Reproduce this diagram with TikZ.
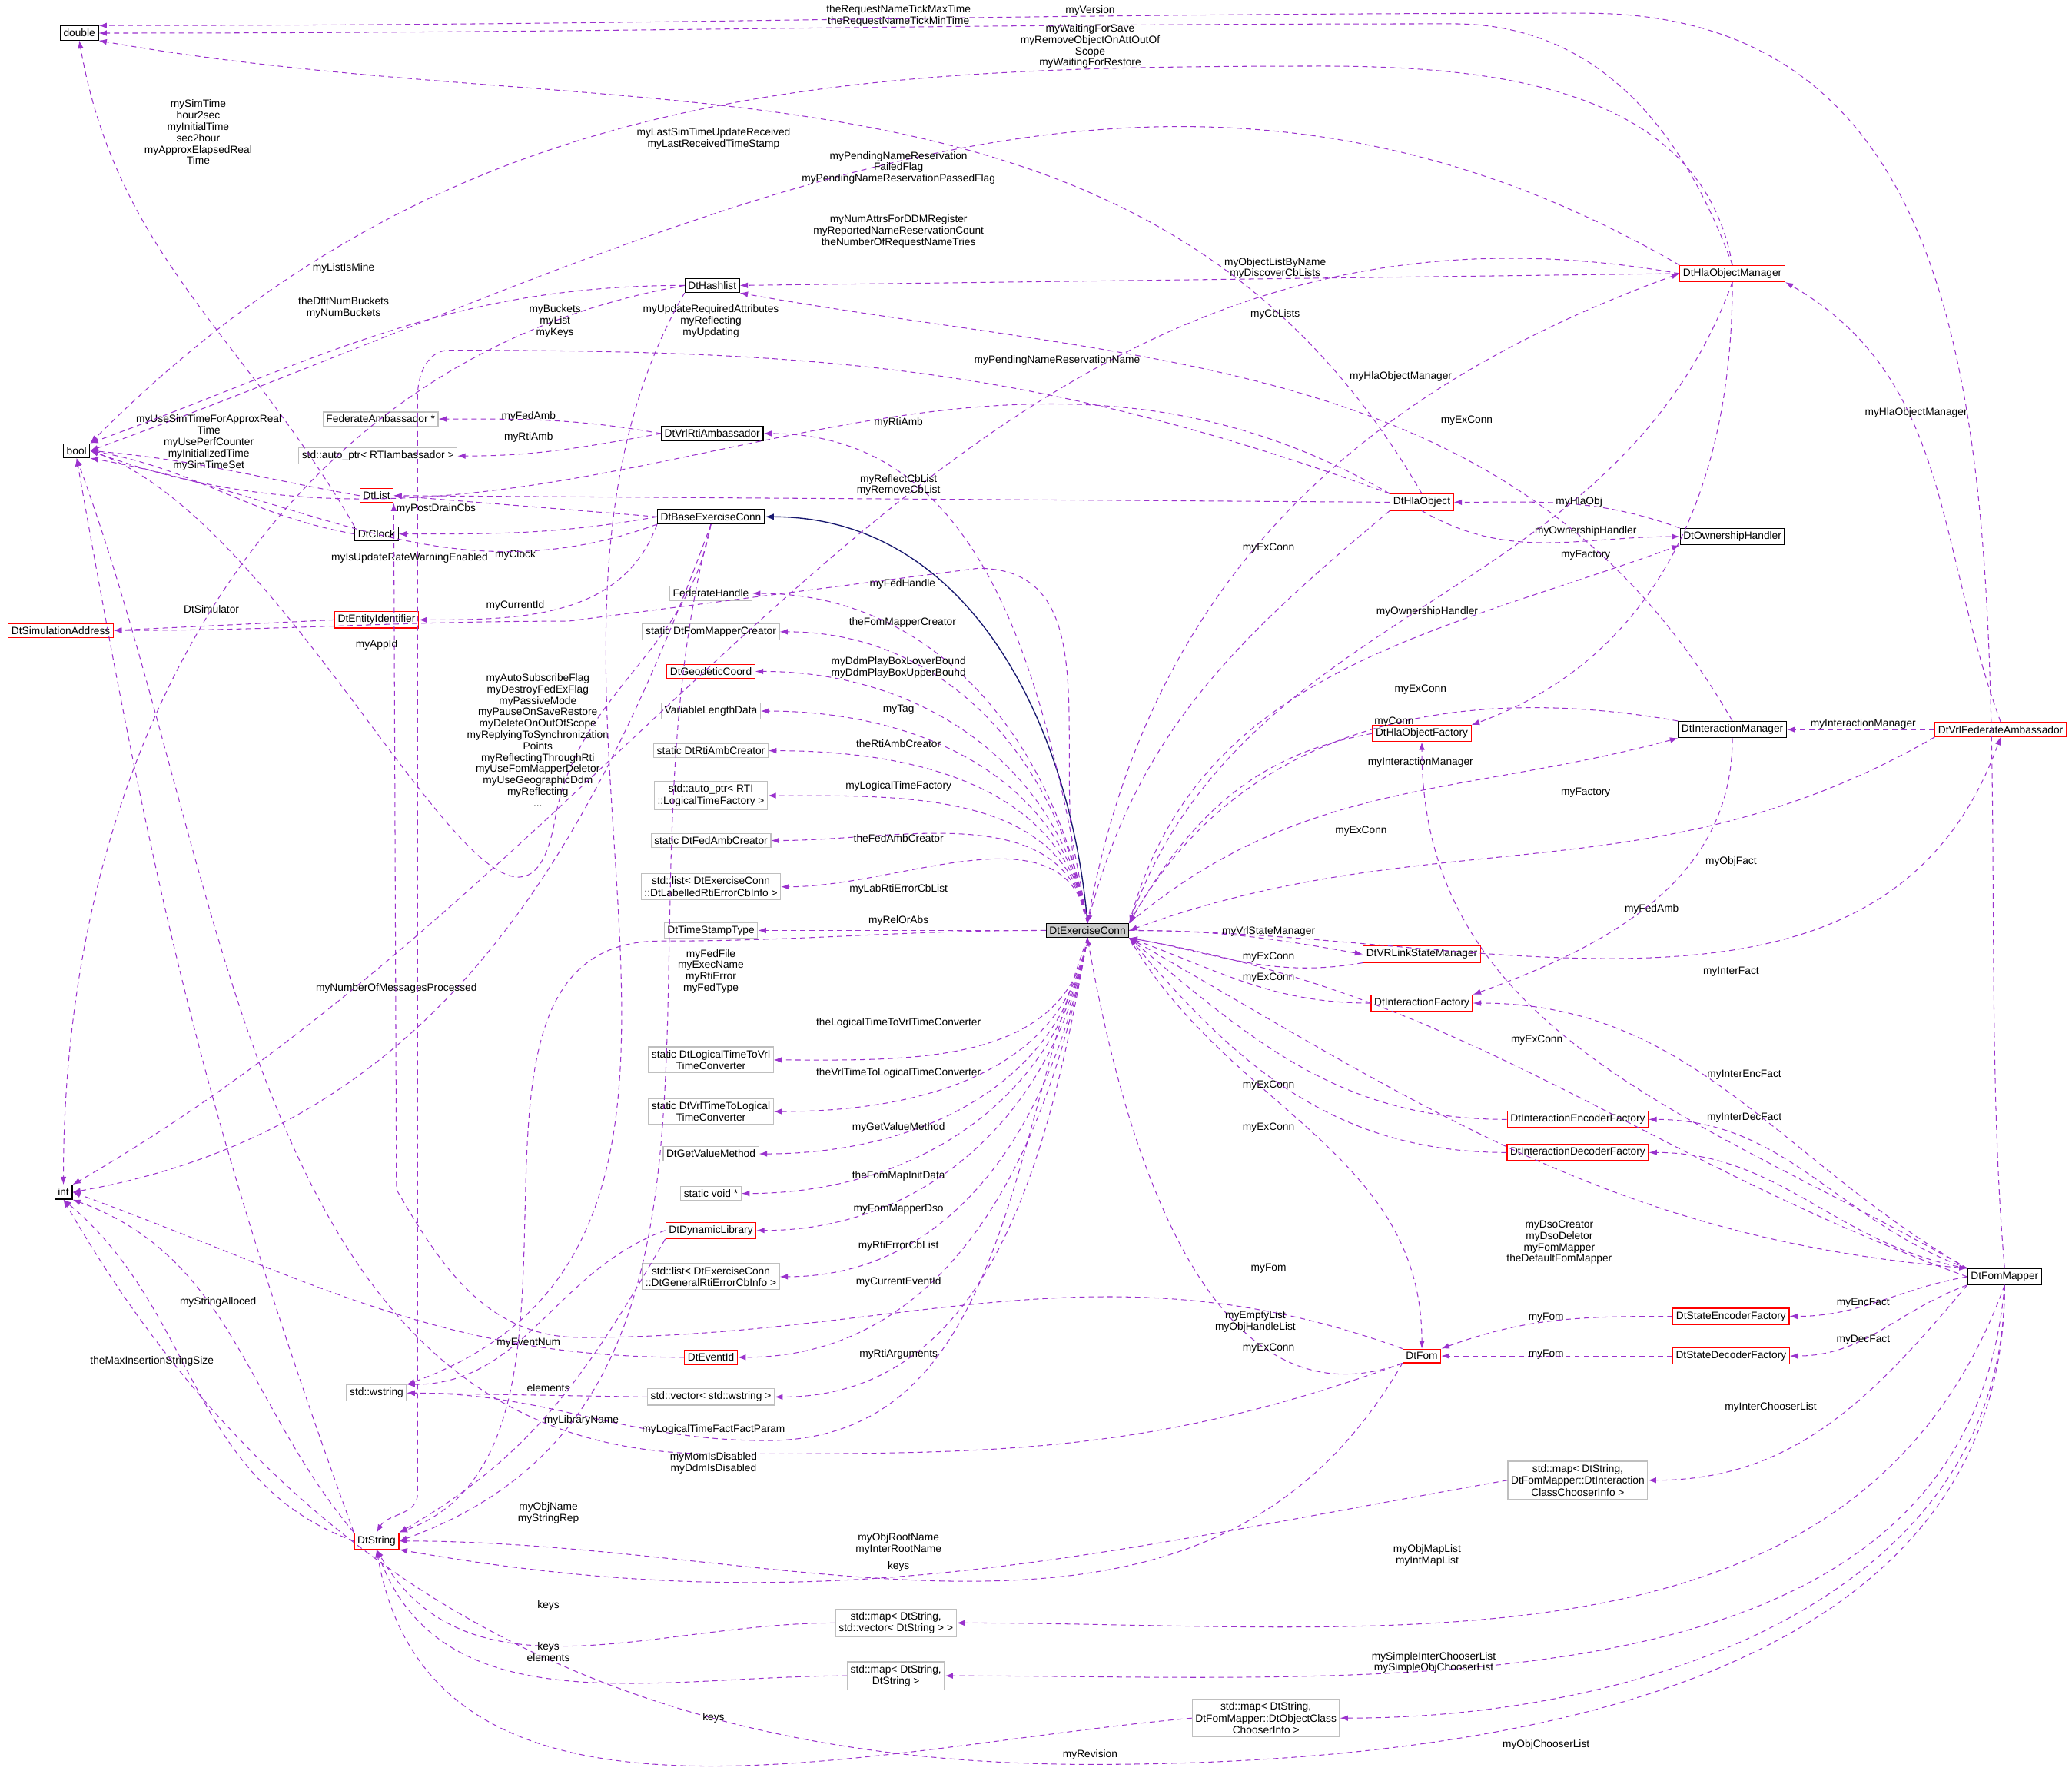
\documentclass[tikz,border=0pt]{standalone}
\usepackage{fontspec}
\setmainfont{Liberation Sans}
\usetikzlibrary{arrows.meta}
\definecolor{pu}{HTML}{9A32CD}
\definecolor{gb}{HTML}{BFBFBF}
\definecolor{nv}{HTML}{191970}
\begin{document}
\begin{tikzpicture}[x=0.25pt,y=-0.25pt,
 every node/.style={font=\fontsize{2}{2.25}\selectfont},
 bx/.style={draw=black,fill=white,inner sep=0.6pt,align=center,line width=0.18pt},
 rb/.style={bx,draw=red},
 gy/.style={bx,draw=gb},
 ex/.style={bx,fill=gb!80},
 e/.style={draw=pu,dash pattern=on 1pt off 0.75pt,line width=0.15pt,-{Latex[length=1.5pt,width=1.1pt]}},
 lbl/.style={font=\fontsize{2}{2.15}\selectfont,align=center,inner sep=0pt}]
\useasboundingbox (0,0) rectangle (1568,1340);
\fill[white] (0,0) rectangle (1568,1340);
% nodes
\node[bx] (dbl) at (60,25) {double};
\node[bx] (bool) at (58,341) {bool};
\node[bx] (int) at (48,902) {int};
\node[rb] (simaddr) at (46,477) {DtSimulationAddress};
\node[bx] (hash) at (539,216) {DtHashlist};
\node[gy] (fedamb) at (288,317) {FederateAmbassador *};
\node[gy] (apRti) at (286,345) {std::auto\_ptr< RTIambassador >};
\node[bx] (vrlrti) at (539,328) {DtVrlRtiAmbassador};
\node[rb] (list) at (285,375) {DtList};
\node[bx] (base) at (538,391) {DtBaseExerciseConn};
\node[bx] (clock) at (285,404) {DtClock};
\node[rb] (entid) at (285,469) {DtEntityIdentifier};
\node[gy] (fh) at (538,449) {FederateHandle};
\node[gy] (fmc) at (538,478) {static DtFomMapperCreator};
\node[rb] (geo) at (538,508) {DtGeodeticCoord};
\node[gy] (vld) at (538,538) {VariableLengthData};
\node[gy] (rac) at (538,568) {static DtRtiAmbCreator};
\node[gy] (ltf) at (538,602) {std::auto\_ptr< RTI\\::LogicalTimeFactory >};
\node[gy] (fac) at (538,636) {static DtFedAmbCreator};
\node[gy] (lab) at (538,671) {std::list< DtExerciseConn\\::DtLabelledRtiErrorCbInfo >};
\node[gy] (tst) at (538,704) {DtTimeStampType};
\node[gy] (l2v) at (538,802) {static DtLogicalTimeToVrl\\TimeConverter};
\node[gy] (v2l) at (538,841) {static DtVrlTimeToLogical\\TimeConverter};
\node[gy] (gvm) at (538,873) {DtGetValueMethod};
\node[gy] (sv) at (538,903) {static void *};
\node[rb] (dyn) at (538,931) {DtDynamicLibrary};
\node[gy] (gen) at (538,966) {std::list< DtExerciseConn\\::DtGeneralRtiErrorCbInfo >};
\node[rb] (evid) at (538,1027) {DtEventId};
\node[gy] (vws) at (538,1057) {std::vector< std::wstring >};
\node[gy] (ws) at (285,1054) {std::wstring};
\node[rb] (str) at (285,1166) {DtString};
\node[ex] (ec) at (823,704) {DtExerciseConn};
\node[rb] (hom) at (1311,207) {DtHlaObjectManager};
\node[rb] (ho) at (1076,380) {DtHlaObject};
\node[bx] (own) at (1311,406) {DtOwnershipHandler};
\node[rb] (hof) at (1076,555) {DtHlaObjectFactory};
\node[bx] (im) at (1311,552) {DtInteractionManager};
\node[rb] (vfa) at (1514,552) {DtVrlFederateAmbassador};
\node[rb] (vsm) at (1076,722) {DtVRLinkStateManager};
\node[rb] (inf) at (1076,759) {DtInteractionFactory};
\node[rb] (ief) at (1194,847) {DtInteractionEncoderFactory};
\node[rb] (idf) at (1194,872) {DtInteractionDecoderFactory};
\node[bx] (fm) at (1517,966) {DtFomMapper};
\node[rb] (sef) at (1310,996) {DtStateEncoderFactory};
\node[rb] (sdf) at (1310,1026) {DtStateDecoderFactory};
\node[rb] (fom) at (1076,1026) {DtFom};
\node[gy] (mic) at (1194,1120) {std::map< DtString,\\DtFomMapper::DtInteraction\\ClassChooserInfo >};
\node[gy] (msv) at (678,1228) {std::map< DtString,\\std::vector< DtString > >};
\node[gy] (mss) at (678,1268) {std::map< DtString,\\DtString >};
\node[gy] (moc) at (958,1300) {std::map< DtString,\\DtFomMapper::DtObjectClass\\ChooserInfo >};
% inheritance
\draw[nv,line width=0.2pt,-{Latex[length=1.7pt,width=1.2pt]}] (ec.north) to[out=95,in=0] (base.east);
% fan from ec to left
\foreach \t/\l/\lx/\ly in {vrlrti/myRtiAmb/680/320, fh/myFedHandle/683/442, fmc/theFomMapperCreator/683/471, vld/myTag/680/537, rac/theRtiAmbCreator/680/563, ltf/myLogicalTimeFactory/680/595, fac/theFedAmbCreator/680/634, lab/myLabRtiErrorCbList/680/673}
  \draw[e] (ec.north) to[out=100,in=0] (\t.east) node[lbl,at={(\lx,\ly)}] {\l};
\draw[e] (ec.north) to[out=100,in=0] (geo.east) node[lbl,at={(680,505)}] {myDdmPlayBoxLowerBound\\myDdmPlayBoxUpperBound};
\draw[e] (ec.west) -- (tst.east) node[lbl,at={(680,697)}] {myRelOrAbs};
\foreach \t/\l/\lx/\ly in {l2v/theLogicalTimeToVrlTimeConverter/680/774, v2l/theVrlTimeToLogicalTimeConverter/680/812, gvm/myGetValueMethod/680/853, sv/theFomMapInitData/680/890, dyn/myFomMapperDso/680/915, gen/myRtiErrorCbList/680/943, evid/myCurrentEventId/680/970, vws/myRtiArguments/680/1025}
  \draw[e] (ec.south) to[out=260,in=0] (\t.east) node[lbl,at={(\lx,\ly)}] {\l};
\draw[e] (ec.south) to[out=250,in=0] (580,1090) to[out=180,in=0] (ws.east) node[lbl,at={(540,1082)}] {myLogicalTimeFactFactParam};
\draw[e] (ec.west) to[out=180,in=0] (500,712) to[out=180,in=20] (str.north east) node[lbl,at={(538,735)}] {myFedFile\\myExecName\\myRtiError\\myFedType};
\draw[e] (ec.north) to[out=110,in=0] (740,430) -- (430,470) to[out=180,in=0] (simaddr.east) node[lbl,at={(285,488)}] {myAppId};
% base conn edges
\draw[e] (base.west) -- (list.east) node[lbl,at={(330,385)}] {myPostDrainCbs};
\draw[e] (base.west) to[out=190,in=0] (clock.east) node[lbl,at={(390,420)}] {myClock};
\draw[e] (base.south west) to[out=250,in=0] (entid.east) node[lbl,at={(390,458)}] {myCurrentId};
\draw[e] (base.south west) to[out=200,in=-10] (bool.south east) node[lbl,at={(310,422)}] {myIsUpdateRateWarningEnabled};
\draw[e] (base.south) to[out=260,in=80] (420,620) to[out=260,in=-20] (bool.east) node[lbl,at={(407,560)}] {myAutoSubscribeFlag\\myDestroyFedExFlag\\myPassiveMode\\myPauseOnSaveRestore\\myDeleteOnOutOfScope\\myReplyingToSynchronization\\Points\\myReflectingThroughRti\\myUseFomMapperDeletor\\myUseGeographicDdm\\myReflecting\\...};
\draw[e] (base.south) to[out=250,in=10] (int.east) node[lbl,at={(300,748)}] {myNumberOfMessagesProcessed};
\draw[e] (base.south) to[out=255,in=20] (str.east);
% to ec
\draw[e] (ec.north) to[out=80,in=200] (hom.west) node[lbl,at={(1060,285)}] {myHlaObjectManager};
\draw[e] (hom.south) to[out=250,in=70] (ec.north east) node[lbl,at={(1110,318)}] {myExConn};
\draw[e] (ho.south west) to[out=220,in=75] (ec.north) node[lbl,at={(960,415)}] {myExConn};
\draw[e] (ec.north east) to[out=75,in=200] (own.south west) node[lbl,at={(1080,463)}] {myOwnershipHandler};
\draw[e] (im.north west) to[out=170,in=60] (ec.north east) node[lbl,at={(1075,522)}] {myExConn};
\draw[e] (hof.west) to[out=190,in=60] (ec.north east) node[lbl,at={(1055,546)}] {myConn};
\draw[e] (ec.north east) to[out=40,in=195] (im.south west) node[lbl,at={(1075,577)}] {myInteractionManager};
\draw[e] (vfa.south west) to[out=210,in=20] (ec.east) node[lbl,at={(1030,629)}] {myExConn};
\draw[e] (ec.east) to[out=0,in=250] (vfa.south) node[lbl,at={(1250,688)}] {myFedAmb};
\draw[e] (ec.east) to[out=0,in=170] (vsm.west) node[lbl,at={(960,705)}] {myVrlStateManager};
\draw[e] (vsm.south west) to[out=190,in=-10] (ec.south east) node[lbl,at={(960,724)}] {myExConn};
\draw[e] (inf.west) to[out=180,in=-20] (ec.south east) node[lbl,at={(960,740)}] {myExConn};
\draw[e] (fm.west) to[out=160,in=-10] (ec.south east) node[lbl,at={(1163,787)}] {myExConn};
\draw[e] (ief.west) to[out=180,in=-40] (ec.south east) node[lbl,at={(960,821)}] {myExConn};
\draw[e] (idf.west) to[out=180,in=-50] (ec.south east) node[lbl,at={(960,853)}] {myExConn};
\draw[e] (ec.south east) to[out=-30,in=175] (fm.north west) node[lbl,at={(1180,940)}] {myDsoCreator\\myDsoDeletor\\myFomMapper\\theDefaultFomMapper};
\draw[e] (ec.south east) to[out=-60,in=90] (fom.north) node[lbl,at={(960,960)}] {myFom};
\draw[e] (fom.south west) to[out=200,in=-80] (ec.south) node[lbl,at={(960,1020)}] {myExConn};
% HlaObjectManager
\draw[e] (hom.north) to[out=110,in=0] (1100,18) to[out=180,in=0] (dbl.east) node[lbl,at={(680,12)}] {theRequestNameTickMaxTime\\theRequestNameTickMinTime};
\draw[e] (hom.north) to[out=100,in=0] (1000,50) to[out=180,in=45] (bool.north east) node[lbl,at={(825,35)}] {myWaitingForSave\\myRemoveObjectOnAttOutOf\\Scope\\myWaitingForRestore};
\draw[e] (hom.north west) to[out=150,in=20] (bool.east) node[lbl,at={(680,127)}] {myPendingNameReservation\\FailedFlag\\myPendingNameReservationPassedFlag};
\draw[e] (hom.west) to[out=170,in=30] (int.north east) node[lbl,at={(680,175)}] {myNumAttrsForDDMRegister\\myReportedNameReservationCount\\theNumberOfRequestNameTries};
\draw[e] (hom.west) -- (hash.east) node[lbl,at={(965,203)}] {myObjectListByName\\myDiscoverCbLists};
\draw[e] (hom.south) to[out=270,in=20] (hof.north east) node[lbl,at={(1200,420)}] {myFactory};
% HlaObject
\draw[e] (ho.north) to[out=120,in=-10] (dbl.south east) node[lbl,at={(540,105)}] {myLastSimTimeUpdateReceived\\myLastReceivedTimeStamp};
\draw[e] (ho.west) -- (list.east) node[lbl,at={(680,367)}] {myReflectCbList\\myRemoveCbList};
\draw[e] (ho.south) to[out=-30,in=180] (own.west) node[lbl,at={(1200,402)}] {myOwnershipHandler};
\draw[e] (own.north west) to[out=160,in=0] (ho.east) node[lbl,at={(1195,380)}] {myHlaObj};
\draw[e] (ho.north west) to[out=160,in=0] (340,265) to[out=180,in=90] (316,300) -- (316,1130) to[out=270,in=60] (str.north) node[lbl,at={(800,273)}] {myPendingNameReservationName};
\draw[e] (ho.north west) to[out=150,in=-20] (bool.east) node[lbl,at={(538,243)}] {myUpdateRequiredAttributes\\myReflecting\\myUpdating};
% Interaction manager
\draw[e] (im.north) to[out=120,in=-10] (hash.south east) node[lbl,at={(965,238)}] {myCbLists};
\draw[e] (im.south) to[out=270,in=20] (inf.north east) node[lbl,at={(1200,600)}] {myFactory};
% vfa
\draw[e] (vfa.north) to[out=110,in=-30] (hom.south east) node[lbl,at={(1450,312)}] {myHlaObjectManager};
\draw[e] (vfa.west) -- (im.east) node[lbl,at={(1410,548)}] {myInteractionManager};
% FomMapper
\draw[e] (fm.north) to[out=95,in=0] (1200,10) to[out=180,in=0] (dbl.north east) node[lbl,at={(825,8)}] {myVersion};
\draw[e] (fm.north west) to[out=150,in=-90] (hof.south) node[lbl,at={(1310,652)}] {myObjFact};
\draw[e] (fm.north west) to[out=150,in=0] (inf.east) node[lbl,at={(1310,735)}] {myInterFact};
\draw[e] (fm.north west) to[out=160,in=0] (ief.east) node[lbl,at={(1320,813)}] {myInterEncFact};
\draw[e] (fm.north west) to[out=170,in=0] (idf.east) node[lbl,at={(1320,846)}] {myInterDecFact};
\draw[e] (fm.west) to[out=190,in=0] (sef.east) node[lbl,at={(1410,986)}] {myEncFact};
\draw[e] (fm.south west) to[out=200,in=0] (sdf.east) node[lbl,at={(1410,1014)}] {myDecFact};
\draw[e] (fm.south west) to[out=230,in=0] (mic.east) node[lbl,at={(1340,1065)}] {myInterChooserList};
\draw[e] (fm.south) to[out=250,in=0] (msv.east) node[lbl,at={(1080,1177)}] {myObjMapList\\myIntMapList};
\draw[e] (fm.south) to[out=265,in=0] (mss.east) node[lbl,at={(1085,1258)}] {mySimpleInterChooserList\\mySimpleObjChooserList};
\draw[e] (fm.south) to[out=270,in=0] (moc.east) node[lbl,at={(1170,1320)}] {myObjChooserList};
\draw[e] (fm.south) to[out=270,in=0] (825,1335) to[out=180,in=-60] (int.south) node[lbl,at={(825,1328)}] {myRevision};
\draw[e] (sef.west) to[out=180,in=20] (fom.north east) node[lbl,at={(1170,997)}] {myFom};
\draw[e] (sdf.west) -- (fom.east) node[lbl,at={(1170,1025)}] {myFom};
% DtFom
\draw[e] (fom.north west) to[out=160,in=0] (440,1012) to[out=180,in=-60] (300,900) -- (list.south east) node[lbl,at={(950,1000)}] {myEmptyList\\myObjHandleList};
\draw[e] (fom.south west) to[out=200,in=0] (540,1100) to[out=180,in=-70] (bool.south) node[lbl,at={(540,1107)}] {myMomIsDisabled\\myDdmIsDisabled};
\draw[e] (fom.south west) to[out=240,in=0] (str.east) node[lbl,at={(680,1168)}] {myObjRootName\\myInterRootName};
\draw[e] (mic.west) to[out=190,in=-10] (str.south east) node[lbl,at={(680,1185)}] {keys};
\draw[e] (msv.west) to[out=180,in=-60] (str.south) node[lbl,at={(415,1215)}] {keys};
\draw[e] (mss.west) to[out=180,in=-70] (str.south) node[lbl,at={(415,1250)}] {keys\\elements};
\draw[e] (moc.west) to[out=185,in=-80] (str.south) node[lbl,at={(540,1300)}] {keys};
\draw[e] (vws.west) -- (ws.east) node[lbl,at={(415,1050)}] {elements};
\draw[e] (evid.west) to[out=180,in=-20] (int.east) node[lbl,at={(400,1016)}] {myEventNum};
\draw[e] (dyn.west) to[out=200,in=0] (ws.north east) node[lbl,at={(440,1075)}] {myLibraryName};
\draw[e] (dyn.south west) to[out=240,in=30] (str.north east) node[lbl,at={(415,1145)}] {myObjName\\myStringRep};
\draw[e] (str.north west) to[out=130,in=-20] (int.south east) node[lbl,at={(165,985)}] {myStringAlloced};
\draw[e] (str.west) to[out=160,in=-40] (int.south) node[lbl,at={(115,1030)}] {theMaxInsertionStringSize};
\draw[e] (str.north west) to[out=110,in=-80] (bool.south) ;
% DtClock etc
\draw[e] (clock.north west) to[out=120,in=-80] (dbl.south) node[lbl,at={(150,100)}] {mySimTime\\hour2sec\\myInitialTime\\sec2hour\\myApproxElapsedReal\\Time};
\draw[e] (clock.west) to[out=170,in=-10] (bool.east) node[lbl,at={(158,335)}] {myUseSimTimeForApproxReal\\Time\\myUsePerfCounter\\myInitializedTime\\mySimTimeSet};
\draw[e] (list.west) to[out=170,in=-5] (bool.east);
\draw[e] (hash.west) to[out=180,in=20] (bool.north east) node[lbl,at={(260,203)}] {myListIsMine};
\draw[e] (hash.west) to[out=190,in=90] (int.north) node[lbl,at={(260,233)}] {theDfltNumBuckets\\myNumBuckets};
\draw[e] (hash.south west) to[out=240,in=20] (ws.north east) node[lbl,at={(420,243)}] {myBuckets\\myList\\myKeys};
\draw[e] (entid.west) -- (simaddr.east) node[lbl,at={(160,461)}] {DtSimulator};
\draw[e] (vrlrti.west) to[out=170,in=0] (fedamb.east) node[lbl,at={(400,315)}] {myFedAmb};
\draw[e] (vrlrti.west) to[out=190,in=0] (apRti.east) node[lbl,at={(400,331)}] {myRtiAmb};
\end{tikzpicture}
\end{document}
